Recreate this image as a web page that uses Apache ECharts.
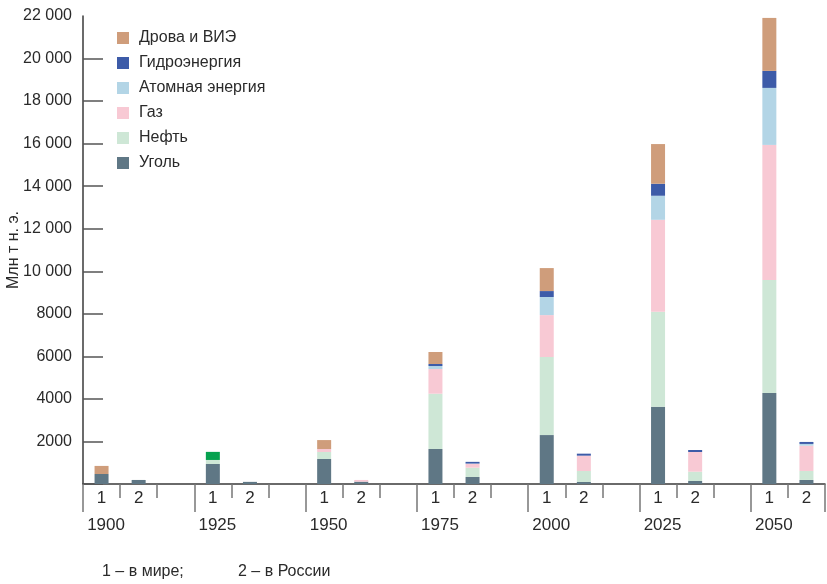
<!DOCTYPE html>
<html>
<head>
<meta charset="utf-8">
<script src="https://cdn.jsdelivr.net/npm/echarts@6/dist/echarts.min.js"></script>
<style>html,body{margin:0;padding:0;background:#fff}#c{width:827px;height:584px}</style>
</head>
<body>
<div id="c"></div>
<script>
// ---- data ----
const years = ['1900', '1925', '1950', '1975', '2000', '2025', '2050'];
const regionLabels = ['1', '2'];
const seriesNames = ['Уголь', 'Нефть', 'Газ', 'Атомная энергия', 'Гидроэнергия', 'Дрова и ВИЭ'];
// world (1)
const coalWorld    = [470, 940, 1175, 1645, 2300, 3630, 4280];
const oilWorld     = [0, 190, 330, 2600, 3670, 4470, 5310];
const gasWorld     = [0, 0, 140, 1160, 1970, 4320, 6350];
const nuclearWorld = [0, 0, 0, 140, 850, 1130, 2680];
const hydroWorld   = [0, 0, 0, 95, 280, 565, 800];
const woodWorld    = [380, 380, 420, 565, 1080, 1865, 2490];
// Russia (2)
const coalRussia    = [190, 100, 110, 330, 95, 140, 190];
const oilRussia     = [0, 0, 0, 436, 517, 440, 423];
const gasRussia     = [0, 0, 80, 180, 720, 925, 1190];
const nuclearRussia = [0, 0, 0, 15, 0, 0, 80];
const hydroRussia   = [0, 0, 0, 80, 94, 94, 94];
const woodRussia    = [0, 0, 0, 0, 0, 0, 0];
const footnotes = ['1 – в мире;', '2 – в России'];
const yTicks = [0, 2000, 4000, 6000, 8000, 10000, 12000, 14000, 16000, 18000, 20000, 22000];

// ---- styles ----
const colors = ['#5F7785', '#CEE7D6', '#F8C9D4', '#B3D5E6', '#3D5BA8', '#CF9D7B'];
const oddColor = '#06A24F'; // 1925 world wood shown green in original
const FONT = '"Liberation Sans Narrow", "Liberation Sans", Arial, sans-serif';
const TXT = '#2a2a2a';

const worldSets = [coalWorld, oilWorld, gasWorld, nuclearWorld, hydroWorld, woodWorld];
const russiaSets = [coalRussia, oilRussia, gasRussia, nuclearRussia, hydroRussia, woodRussia];

// 20 slots: per group [world, russia, gap], last group without gap
const slots = [];
years.forEach((y, g) => {
  slots.push({g, k: 0});
  slots.push({g, k: 1});
  if (g < years.length - 1) slots.push({g, k: 2});
});
const cats = slots.map((s, i) => 'c' + i);

const series = seriesNames.map((name, si) => ({
  name, type: 'bar', stack: 'total', barWidth: 14,
  itemStyle: {color: colors[si]},
  data: slots.map(s => {
    if (s.k === 2) return '-';
    const v = (s.k === 0 ? worldSets : russiaSets)[si][s.g];
    if (!v) return '-';
    if (si === 5 && s.k === 0 && years[s.g] === '1925') return {value: v, itemStyle: {color: oddColor}};
    return v;
  })
}));

function fmt(v) {
  if (v === 0) return '';
  if (v >= 10000) return String(v).replace(/(\d+)(\d{3})$/, '$1 $2');
  return String(v);
}

const chart = echarts.init(document.getElementById('c'), null, {renderer: 'canvas'});
chart.setOption({
  animation: false,
  textStyle: {fontFamily: FONT},
  grid: {left: 83, right: 2, top: 16, bottom: 100, containLabel: false, outerBoundsMode: 'none'},
  legend: {
    orient: 'vertical', left: 112, top: 25,
    data: seriesNames.slice().reverse(),
    icon: 'rect', itemWidth: 12, itemHeight: 12, itemGap: 9,
    textStyle: {fontFamily: FONT, fontSize: 16, color: TXT, padding: [0, 0, 0, 5]},
    selectedMode: false
  },
  xAxis: [
    {
      type: 'category', data: cats, position: 'bottom',
      axisLine: {show: true, lineStyle: {color: '#3a3a3a', width: 1.5}},
      axisTick: {show: true, length: 14, interval: 0, lineStyle: {color: '#777', width: 1.5}},
      axisLabel: {
        interval: 0, margin: 6, fontFamily: FONT, fontSize: 17, color: TXT,
        formatter: (v, i) => { const s = slots[i]; return s.k < 2 ? regionLabels[s.k] : ''; }
      },
      splitLine: {show: false}
    },
    {
      type: 'category', data: cats, position: 'bottom', offset: 0,
      axisLine: {show: false},
      axisTick: {show: true, length: 28, interval: (i) => i % 3 === 0, lineStyle: {color: '#777', width: 1.5}},
      axisLabel: {
        interval: (i) => i % 3 === 0, margin: 33, fontFamily: FONT, fontSize: 17, color: TXT,
        padding: [0, 0, 0, 9],
        formatter: (v, i) => slots[i] && slots[i].k === 0 ? years[slots[i].g] : ''
      },
      splitLine: {show: false}
    }
  ],
  yAxis: {
    type: 'value', min: yTicks[0], max: yTicks[yTicks.length - 1], interval: 2000,
    name: 'Млн т н. э.', nameLocation: 'middle', nameGap: 61, nameRotate: 90, nameMoveOverlap: false,
    nameTextStyle: {fontFamily: FONT, fontSize: 16, color: TXT},
    axisLine: {show: true, lineStyle: {color: '#3a3a3a', width: 1.5}},
    axisTick: {show: true, inside: true, length: 20, customValues: yTicks.slice(0, -1), lineStyle: {color: '#555', width: 1.5}},
    axisLabel: {margin: 11, fontFamily: FONT, fontSize: 16, color: TXT, formatter: fmt},
    splitLine: {show: false}
  },
  series,
  graphic: [
    {type: 'text', left: 102, top: 564, style: {text: footnotes[0], font: '16px ' + FONT, fill: TXT}},
    {type: 'text', left: 238, top: 564, style: {text: footnotes[1], font: '16px ' + FONT, fill: TXT}}
  ]
});
</script>
</body>
</html>
